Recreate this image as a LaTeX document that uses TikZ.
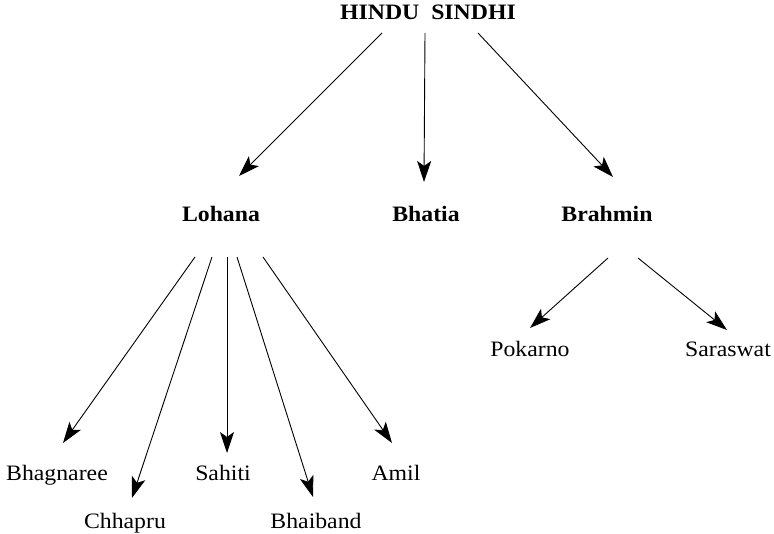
\documentclass[tikz,border=0pt]{standalone}
\usepackage{fontspec}
\setmainfont[FakeStretch=1.08]{Liberation Serif}
\usepackage{tikz}
\usetikzlibrary{arrows.meta, calc}

\begin{document}
\begin{tikzpicture}[x=1pt, y=-1pt,
  arr/.style={line width=0.9pt, -{Stealth[length=21pt, width=14pt, inset=5pt]}},
  head/.style={anchor=base, inner sep=0pt, font=\fontsize{22}{26}\selectfont\bfseries},
  caste/.style={anchor=base, inner sep=0pt, font=\fontsize{22}{26}\selectfont}]
\useasboundingbox (0,0) rectangle (774,534);

% top
\node[head] (hs) at (428,20) {HINDU\ \ SINDHI};

% groups
\node[head] (loh) at (221,222) {Lohana};
\node[head] (bha) at (426,222) {Bhatia};
\node[head] (bra) at (607,222) {Brahmin};

% sub groups
\node[caste] (pok) at (530,357) {Pokarno};
\node[caste] (sar) at (728,357) {Saraswat};
\node[caste] (bhg) at (57,480) {Bhagnaree};
\node[caste] (sah) at (223,480) {Sahiti};
\node[caste] (ami) at (396,480) {Amil};
\node[caste] (chh) at (125,528) {Chhapru};
\node[caste] (bhb) at (316,528) {Bhaiband};

\draw[arr] ($(hs.base)+(-46,13)$) -- ($(loh.base)+(18,-46)$);
\draw[arr] ($(hs.base)+(-3,13)$) -- ($(bha.base)+(-2,-40)$);
\draw[arr] ($(hs.base)+(50,13)$) -- ($(bra.base)+(6,-45)$);

\draw[arr] ($(loh.base)+(-26,35)$) -- ($(bhg.base)+(6,-37)$);
\draw[arr] ($(loh.base)+(-9,35)$) -- ($(chh.base)+(7,-30)$);
\draw[arr] ($(loh.base)+(6,35)$) -- ($(sah.base)+(4,-27)$);
\draw[arr] ($(loh.base)+(16,35)$) -- ($(bhb.base)+(-3,-31)$);
\draw[arr] ($(loh.base)+(42,35)$) -- ($(ami.base)+(-4,-37)$);

\draw[arr] ($(bra.base)+(1,36)$) -- ($(pok.base)+(0,-29)$);
\draw[arr] ($(bra.base)+(31,36)$) -- ($(sar.base)+(-1,-27)$);
\end{tikzpicture}
\end{document}
